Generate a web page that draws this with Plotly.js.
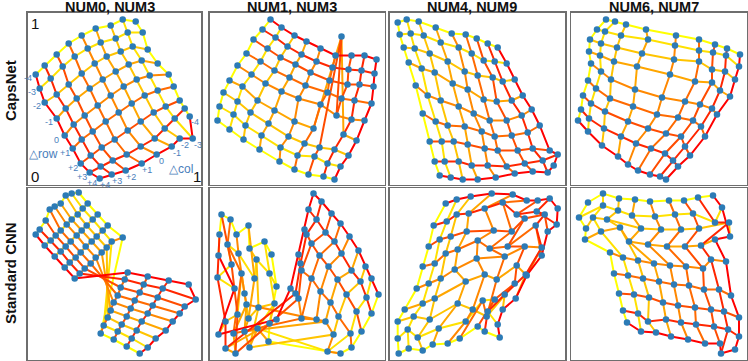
<!DOCTYPE html>
<html>
<head>
<meta charset="utf-8">
<script src="https://cdn.plot.ly/plotly-3.0.1.min.js"></script>
<style>html,body{margin:0;padding:0;background:#fff}</style>
</head>
<body>
<div id="chart" style="width:748px;height:361px"></div>
<script>
const pairTitles = ['NUM0, NUM3', 'NUM1, NUM3', 'NUM4, NUM9', 'NUM6, NUM7'];
const modelNames = ['CapsNet', 'Standard CNN'];
const deltaTicks = ['-4', '-3', '-2', '-1', '0', '+1', '+2', '+3', '+4'];

// each grid: 9 lines of 9 [x, y] latent positions (panel units, origin bottom-left)
const capsNum03 = [
  [[8,110],[17,119],[29,130],[41,141],[54,149],[68,156],[83,159],[95,165],[108,163]],
  [[12,96],[23,106],[35,118],[47,128],[60,136],[73,142],[88,146],[100,152],[115,152]],
  [[17,82],[29,90],[41,100],[54,111],[67,121],[79,128],[93,133],[105,138],[120,135]],
  [[29,66],[38,76],[49,86],[62,96],[75,105],[88,113],[101,120],[114,124],[130,121]],
  [[37,49],[46,60],[57,69],[70,79],[83,89],[96,98],[109,105],[122,109],[141,110]],
  [[45,36],[54,45],[65,53],[78,63],[91,72],[104,81],[117,89],[130,94],[146,98]],
  [[53,21],[63,29],[74,37],[87,45],[100,54],[113,63],[126,72],[138,78],[152,84]],
  [[62,12],[73,18],[85,24],[99,30],[113,38],[127,46],[137,56],[147,66],[157,76]],
  [[72,6],[84,10],[98,14],[114,21],[129,30],[144,38],[152,46],[165,46],[162,68]]
];
const capsNum13 = [
  [[61,165],[72,157],[85,149],[97,143],[111,136],[126,129],[142,129],[155,129],[167,125]],
  [[53,155],[66,147],[78,138],[92,130],[107,123],[123,117],[139,115],[152,114],[165,111]],
  [[44,145],[58,136],[71,127],[86,120],[101,112],[120,104],[138,100],[150,100],[164,98]],
  [[37,131],[51,123],[65,114],[80,107],[96,99],[118,92],[132,86],[145,84],[162,81]],
  [[28,119],[42,110],[56,101],[72,93],[89,86],[111,80],[127,69],[142,65],[155,64]],
  [[20,104],[33,98],[48,84],[65,74],[85,63],[104,56],[132,148],[134,50],[147,44]],
  [[14,92],[28,83],[41,72],[59,61],[79,48],[95,41],[110,37],[125,35],[139,29]],
  [[10,78],[24,70],[36,59],[52,49],[71,37],[88,29],[105,28],[118,21],[131,18]],
  [[8,64],[20,55],[34,45],[50,35],[70,23],[85,15],[99,10],[114,8],[125,5]]
];
const capsNum49 = [
  [[8,162],[17,165],[29,163],[46,157],[62,151],[76,150],[87,146],[98,141],[108,137]],
  [[10,150],[21,151],[34,149],[51,142],[69,137],[82,131],[94,124],[105,123],[117,121]],
  [[14,137],[25,136],[40,131],[58,123],[75,113],[88,109],[103,107],[113,103],[125,105]],
  [[19,122],[32,116],[45,112],[63,101],[78,95],[94,85],[107,83],[122,84],[133,89]],
  [[26,99],[38,89],[51,84],[69,78],[84,71],[100,64],[117,64],[132,69],[142,75]],
  [[33,71],[46,63],[58,59],[75,58],[92,53],[105,48],[122,49],[138,52],[150,59]],
  [[40,43],[52,43],[64,43],[78,40],[95,36],[108,34],[128,34],[143,36],[160,34]],
  [[45,23],[55,23],[69,23],[82,19],[98,19],[117,18],[135,21],[153,24],[168,30]],
  [[50,9],[61,7],[73,5],[88,5],[106,7],[125,11],[143,13],[158,12],[164,19]]
];
const capsNum67 = [
  [[35,165],[44,163],[55,160],[75,155],[105,149],[128,145],[144,140],[156,136],[169,130]],
  [[26,155],[34,153],[50,149],[77,145],[104,139],[128,134],[142,132],[155,129],[168,118]],
  [[19,145],[30,141],[46,137],[71,131],[103,125],[128,123],[141,115],[154,113],[164,105]],
  [[18,133],[29,129],[43,123],[66,118],[99,110],[124,103],[141,102],[149,94],[159,88]],
  [[20,121],[30,113],[40,105],[64,95],[91,87],[114,83],[129,80],[141,76],[146,70]],
  [[17,104],[25,96],[39,86],[62,78],[86,70],[107,67],[122,64],[130,58],[134,48]],
  [[12,89],[20,81],[34,73],[57,63],[77,56],[95,51],[110,48],[114,38],[119,29]],
  [[10,75],[18,66],[33,56],[50,48],[65,41],[80,36],[94,31],[102,24],[107,18]],
  [[7,64],[17,53],[31,39],[47,28],[57,20],[67,14],[79,10],[89,8],[95,5]]
];
const cnnNum03 = [
  [[51,167],[44,166],[38,164],[33,156],[27,153],[22,150],[18,139],[12,130],[8,125]],
  [[60,156],[55,151],[50,145],[44,140],[39,135],[33,129],[28,124],[23,119],[17,114]],
  [[70,145],[65,140],[59,134],[54,129],[49,124],[43,118],[38,113],[33,108],[27,103]],
  [[80,134],[75,129],[69,123],[64,118],[58,113],[53,107],[48,102],[42,97],[37,92]],
  [[95,122],[84,118],[79,112],[74,107],[68,102],[63,96],[57,91],[52,86],[47,81]],
  [[73,26],[76,34],[80,42],[83,49],[86,57],[90,64],[93,72],[97,80],[100,87]],
  [[86,20],[90,28],[94,35],[99,43],[103,51],[107,59],[112,67],[116,75],[120,83]],
  [[99,13],[104,21],[109,29],[114,38],[120,46],[125,54],[130,62],[135,71],[141,79]],
  [[112,6],[120,12],[128,21],[138,29],[145,38],[152,46],[157,53],[168,60],[161,75]]
];
const cnnNum13 = [
  [[62,105],[55,118],[40,111],[39,134],[27,125],[21,140],[12,145],[10,125],[9,104]],
  [[67,73],[60,86],[47,100],[45,81],[29,106],[18,115],[22,95],[8,82],[25,71]],
  [[60,36],[65,56],[49,52],[39,41],[35,66],[32,86],[28,45],[16,38],[9,25]],
  [[59,18],[48,31],[40,12],[35,28],[37,55],[24,26],[26,6],[16,11],[67,40]],
  [[131,6],[118,8],[124,25],[116,38],[107,40],[92,41],[89,61],[86,66],[81,71]],
  [[142,12],[141,26],[129,43],[121,57],[111,68],[102,81],[92,89],[91,96],[89,105]],
  [[152,28],[147,48],[137,65],[128,80],[119,93],[110,104],[102,116],[97,125],[95,130]],
  [[162,46],[157,62],[151,78],[142,89],[132,106],[125,118],[116,127],[107,140],[99,150]],
  [[169,65],[162,81],[156,93],[149,109],[140,123],[131,136],[122,146],[112,158],[104,166]]
];
const cnnNum49 = [
  [[56,156],[67,160],[81,163],[102,166],[123,165],[137,159],[148,159],[160,161],[168,151]],
  [[44,134],[57,138],[67,145],[79,146],[95,151],[113,157],[127,145],[147,148],[167,135]],
  [[39,113],[50,120],[61,123],[77,128],[104,129],[122,128],[135,141],[155,145],[158,128]],
  [[33,93],[45,96],[56,106],[68,110],[88,119],[100,111],[118,113],[146,134],[152,104]],
  [[27,71],[39,76],[51,81],[65,90],[87,101],[115,103],[135,113],[152,112],[137,84]],
  [[15,50],[33,56],[45,61],[76,78],[95,85],[107,80],[127,94],[136,85],[126,61]],
  [[8,38],[24,43],[40,40],[68,56],[83,50],[97,43],[125,76],[115,65],[113,50]],
  [[8,21],[18,30],[28,22],[49,31],[76,38],[93,59],[105,60],[98,48],[108,35]],
  [[9,6],[19,11],[33,9],[43,15],[58,16],[70,21],[88,33],[95,28],[110,22]]
];
const cnnNum67 = [
  [[17,157],[32,166],[48,161],[64,160],[79,158],[98,159],[113,159],[127,162],[142,164]],
  [[8,142],[32,154],[47,149],[61,144],[84,143],[104,145],[122,146],[144,137],[151,152]],
  [[15,131],[22,142],[36,140],[70,131],[90,130],[110,130],[128,131],[158,137],[159,123]],
  [[14,120],[30,128],[49,132],[58,118],[77,115],[96,113],[114,113],[130,114],[144,120]],
  [[39,107],[52,102],[67,99],[83,96],[99,94],[115,93],[132,91],[140,100],[155,98]],
  [[43,86],[57,84],[72,81],[88,78],[103,75],[118,74],[133,70],[148,70],[160,64]],
  [[48,66],[63,65],[78,62],[92,57],[107,54],[124,52],[140,50],[153,48],[168,42]],
  [[52,49],[67,46],[77,38],[95,40],[110,37],[125,35],[143,33],[157,30],[168,23]],
  [[56,37],[70,28],[85,27],[100,23],[117,20],[134,16],[149,16],[150,6],[164,10]]
];

// whether the first line of each family is the Δ = -4 (yellow) one: [lines, crossLines]
const yellowFirst = [
  [true, false], [false, true], [true, true], [true, true],
  [true, true], [true, true], [false, true], [true, true]
];

const grids = [capsNum03, capsNum13, capsNum49, capsNum67, cnnNum03, cnnNum13, cnnNum49, cnnNum67];
const palette = ['#ffff00', '#ffe100', '#ffc400', '#ffa600', '#ff8800', '#ff6a00', '#ff4c00', '#ff2600', '#ff0000'];

const colPx = [[27.7, 201.3], [209.5, 384.5], [389.7, 565], [571, 746.5]];
const rowPx = [[12.7, 184.5], [188, 359.5]];
const W = 748, H = 361;

const traces = [];
const layout = {
  width: W, height: H,
  margin: { l: 0, r: 0, t: 0, b: 0 },
  paper_bgcolor: '#fff', plot_bgcolor: '#fff',
  showlegend: false,
  font: { family: 'Liberation Sans, Arial, sans-serif' },
  annotations: []
};

grids.forEach((grid, p) => {
  const row = Math.floor(p / 4), col = p % 4;
  const n = p === 0 ? '' : String(p + 1);
  const xa = 'x' + n, ya = 'y' + n;
  const [x0, x1] = colPx[col], [y0, y1] = rowPx[row];
  const axBase = {
    showgrid: false, zeroline: false, showticklabels: false, ticks: '',
    showline: true, mirror: true, linecolor: '#6e6e6e', linewidth: 1.5, fixedrange: true
  };
  layout['xaxis' + n] = Object.assign({}, axBase, {
    domain: [x0 / W, x1 / W], range: [0, x1 - x0], anchor: ya
  });
  layout['yaxis' + n] = Object.assign({}, axBase, {
    domain: [1 - y1 / H, 1 - y0 / H], range: [0, y1 - y0], anchor: xa
  });
  traces.push({ type: 'scatter', mode: 'markers', x: [null], y: [null], xaxis: xa, yaxis: ya, hoverinfo: 'skip' });

  const [fa, fb] = yellowFirst[p];
  for (let k = 0; k < 9; k++) {
    const xs = [], ys = [];
    const i = fa ? k : 8 - k;
    grid[i].forEach(pt => { xs.push(pt[0]); ys.push(pt[1]); });
    xs.push(null); ys.push(null);
    const j = fb ? k : 8 - k;
    grid.forEach(line => { xs.push(line[j][0]); ys.push(line[j][1]); });
    traces.push({
      type: 'scatter', mode: 'lines', x: xs, y: ys, xaxis: xa, yaxis: ya,
      line: { color: palette[k], width: 2 }, hoverinfo: 'skip'
    });
  }
  const px = [], py = [];
  grid.forEach(line => line.forEach(pt => { px.push(pt[0]); py.push(pt[1]); }));
  traces.push({
    type: 'scatter', mode: 'markers', x: px, y: py, xaxis: xa, yaxis: ya,
    marker: { color: '#2c7bb6', size: 6.5 }, hoverinfo: 'skip'
  });
});

// column titles and row names
pairTitles.forEach((t, c) => {
  layout.annotations.push({
    xref: 'paper', yref: 'paper', xanchor: 'center', yanchor: 'middle',
    x: ((colPx[c][0] + colPx[c][1]) / 2 - 5) / W, y: 1 - 6.5 / H,
    text: '<b>' + t + '</b>', showarrow: false, font: { size: 14.5, color: '#111' }
  });
});
modelNames.forEach((m, r) => {
  layout.annotations.push({
    xref: 'paper', yref: 'paper', xanchor: 'center', yanchor: 'middle',
    x: 10 / W, y: 1 - (r === 0 ? 91 : 273) / H,
    text: '<b>' + m + '</b>', textangle: -90, showarrow: false, font: { size: 15, color: '#111' }
  });
});

// axis hints inside the first panel
const blue = '#4a7ebb';
const g0 = capsNum03;
[['1', 7, 161], ['0', 7, 8], ['1', 169, 8]].forEach(([t, x, y]) => {
  layout.annotations.push({ xref: 'x', yref: 'y', x, y, text: t, showarrow: false, font: { size: 15, color: '#111' } });
});
layout.annotations.push({ xref: 'x', yref: 'y', x: 16, y: 31, text: '△row', showarrow: false, font: { size: 12, color: blue } });
layout.annotations.push({ xref: 'x', yref: 'y', x: 153, y: 16, text: '△col', showarrow: false, font: { size: 12, color: blue } });
deltaTicks.forEach((t, i) => {
  const a = g0[i][0];
  layout.annotations.push({ xref: 'x', yref: 'y', x: a[0], y: a[1], xshift: -8, yshift: -4, text: t, showarrow: false, font: { size: 9, color: blue } });
  const b = g0[8][8 - i];
  layout.annotations.push({ xref: 'x', yref: 'y', x: b[0], y: b[1], xshift: 5, yshift: -6, text: t, showarrow: false, font: { size: 9, color: blue } });
});

Plotly.newPlot('chart', traces, layout, { staticPlot: true });
</script>
</body>
</html>
